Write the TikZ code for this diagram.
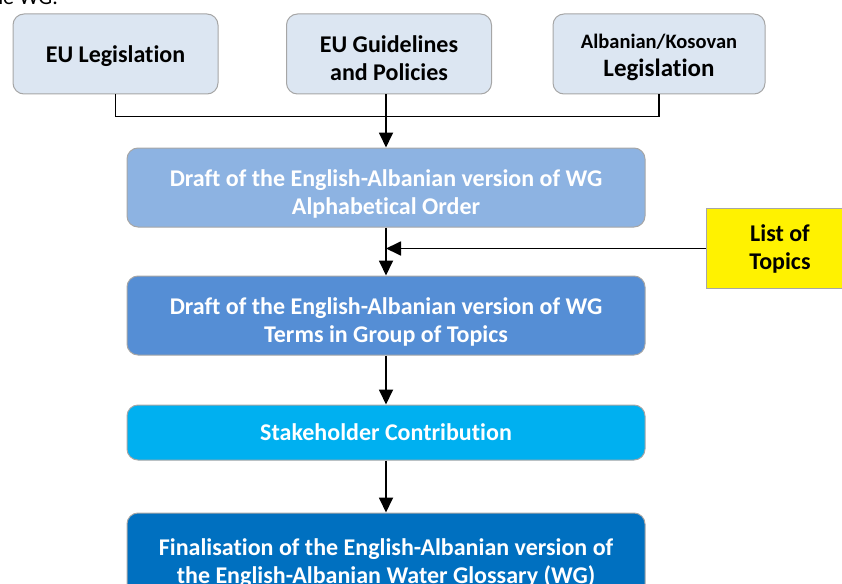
\documentclass[tikz,border=0pt]{standalone}
\usepackage{fontspec}
\setmainfont{Carlito}[Ligatures=NoCommon]
\usetikzlibrary{arrows.meta}

\definecolor{srcfill}{HTML}{DCE6F2}
\definecolor{alphafill}{HTML}{8DB3E2}
\definecolor{topicfill}{HTML}{558ED5}
\definecolor{stakefill}{HTML}{00B0F0}
\definecolor{finalfill}{HTML}{0070C0}
\definecolor{edgegray}{HTML}{A6A6A6}

% pushes a two-line label a little below the middle of its box
\newcommand{\toppad}[1]{\rule{0pt}{#1}}

\begin{document}
\begin{tikzpicture}[x=1pt, y=-1pt, >={Triangle[length=15pt, width=14pt]},
	box/.style={draw=edgegray, line width=1pt, rounded corners=11pt, align=center,
		inner sep=0pt, font=\bfseries\fontsize{24}{28}\selectfont},
	src/.style={box, fill=srcfill, minimum width=205pt, minimum height=80pt},
	stage/.style={box, text=white, minimum width=518pt, minimum height=79pt},
	link/.style={line width=1.8pt}]

	% page frame
	\useasboundingbox (0, 0) rectangle (842, 583);
	\clip (0, 0) rectangle (842, 583);

	% tail of the sentence above
	\node[anchor=base east, inner sep=0pt, font=\fontsize{22}{26}\selectfont]
		(intro) at (58, 5) {the WG.};

	% sources
	\node[src] (leg)   at (115.5, 54) {\toppad{21pt}EU Legislation};
	\node[src] (guide) at (389, 54) {\toppad{25pt}EU Guidelines\\and Policies};
	\node[src, minimum width=212pt] (alb) at (659, 54)
		{\toppad{22pt}{\fontsize{20.5}{24}\selectfont Albanian/Kosovan}\\{\fontsize{25}{28}\selectfont Legislation}};

	% stages
	\node[stage, fill=alphafill] (draft1) at (386, 187.5)
		{\toppad{29pt}Draft of the English-Albanian version of WG\\Alphabetical Order};
	\node[stage, fill=topicfill] (draft2) at (386, 315.5)
		{\toppad{29pt}Draft of the English-Albanian version of WG\\Terms in Group of Topics};
	\node[stage, fill=stakefill, minimum height=55pt] (stake) at (386, 432.5)
		{Stakeholder Contribution};
	\node[stage, fill=finalfill, minimum height=100pt] (final) at (386, 563)
		{Finalisation of the English-Albanian version of\\the English-Albanian Water Glossary (WG)};

	% side input
	\node[box, rounded corners=0pt, fill=yellow, minimum width=148pt, minimum height=80pt]
		(topics) at (780, 248.5) {List of\\Topics};

	% connectors
	\draw[link] (leg.south) -- ++(0, 22) -| (alb.south);
	\draw[link, ->] (guide.south -| draft1.north) -- (draft1.north);
	\draw[link, ->] (draft1.south) -- (draft2.north);
	\draw[link, ->] (topics.west) -- (topics.west -| draft1.south);
	\draw[link, ->] (draft2.south) -- (stake.north);
	\draw[link, ->] (stake.south) -- (final.north);

\end{tikzpicture}
\end{document}
